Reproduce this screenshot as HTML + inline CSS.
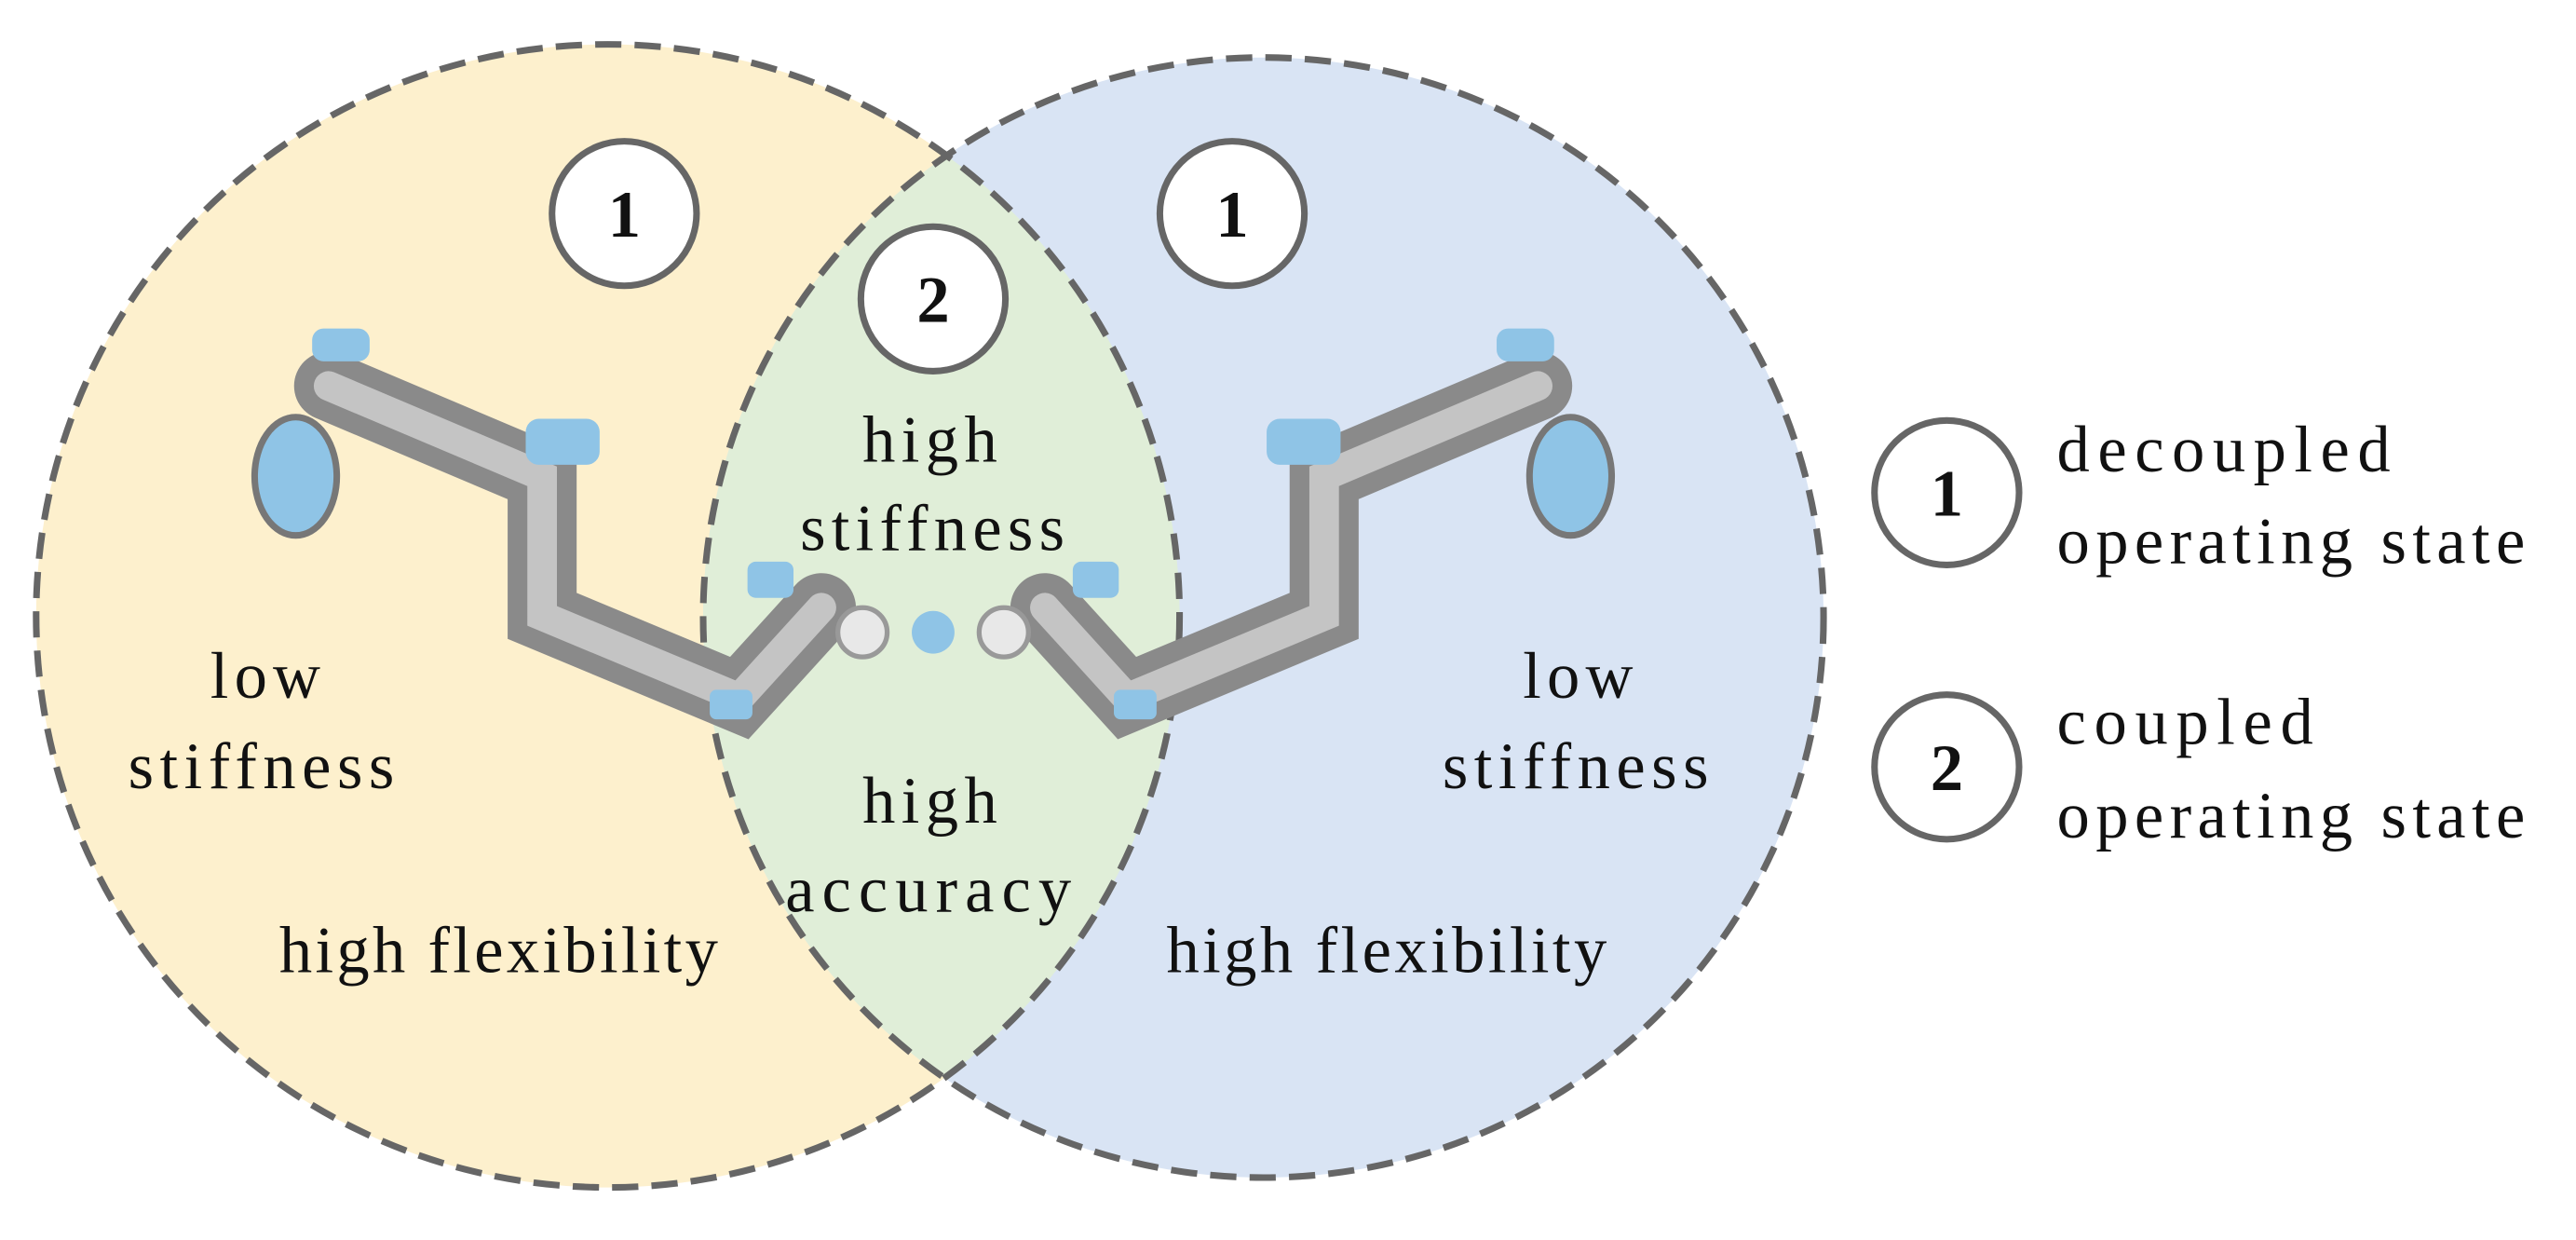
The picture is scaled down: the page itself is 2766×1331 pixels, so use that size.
<!DOCTYPE html>
<html><head><style>html,body{margin:0;padding:0;background:#fff}svg{display:block}</style></head>
<body>
<svg width="2766" height="1331" viewBox="0 0 1568 755" preserveAspectRatio="none" xmlns="http://www.w3.org/2000/svg">
<defs>
<clipPath id="cl"><circle cx="370" cy="375" r="348"/></clipPath>
</defs>
<circle cx="370" cy="375" r="348" fill="#fdf0cd"/>
<circle cx="769" cy="376" r="341" fill="#d9e4f4"/>
<circle cx="769" cy="376" r="341" fill="#e0eed8" clip-path="url(#cl)"/>
<g fill="none" stroke="#666" stroke-width="4" stroke-dasharray="16 8">
<circle cx="370" cy="375" r="348"/>
<circle cx="769" cy="376" r="341"/>
</g>
<g id="rb" stroke-linecap="round" fill="none">
<path d="M200 235 L330 290 L330 375 L450 425 L500 370" stroke="#8a8a8a" stroke-width="42"/>
<path d="M200 235 L330 290 L330 375 L450 425 L500 370" stroke="#c4c4c4" stroke-width="18"/>
<ellipse cx="180" cy="290" rx="25" ry="36" fill="#8fc4e6" stroke="#777" stroke-width="4"/>
<rect x="190" y="200" width="35" height="20" rx="7" fill="#8fc4e6"/>
<rect x="320" y="255" width="45" height="28" rx="8" fill="#8fc4e6"/>
<rect x="455" y="342" width="28" height="22" rx="5" fill="#8fc4e6"/>
<rect x="432" y="420" width="26" height="18" rx="4" fill="#8fc4e6"/>
<circle cx="525" cy="385" r="15" fill="#e8e8e8" stroke="#999" stroke-width="3"/>
</g>
<use href="#rb" transform="translate(1136 0) scale(-1 1)"/>
<circle cx="568" cy="385" r="13" fill="#8fc4e6"/>
<g fill="#fff" stroke="#666" stroke-width="4">
<circle cx="380" cy="130" r="44"/><circle cx="750" cy="130" r="44"/><circle cx="568" cy="182" r="44"/>
<circle cx="1185" cy="300" r="44"/><circle cx="1185" cy="467" r="44"/>
</g>
<g font-family="Liberation Serif, serif" font-size="40" fill="#111" text-anchor="middle" font-weight="bold">
<text x="380" y="144">1</text><text x="750" y="144">1</text><text x="568" y="196">2</text>
<text x="1185" y="314">1</text><text x="1185" y="481">2</text>
</g>
<g font-family="Liberation Serif, serif" font-size="40" fill="#111" lengthAdjust="spacing">
<text x="525" y="281" textLength="82">high</text><text x="487" y="335" textLength="161">stiffness</text>
<text x="525" y="501" textLength="82">high</text><text x="478" y="555" textLength="174">accuracy</text>
<text x="128" y="425" textLength="67">low</text><text x="78" y="480" textLength="162">stiffness</text>
<text x="927" y="425" textLength="67">low</text><text x="878" y="480" textLength="162">stiffness</text>
<text x="170" y="592" textLength="267">high flexibility</text><text x="710" y="592" textLength="268">high flexibility</text>
<text x="1252" y="287" textLength="203">decoupled</text><text x="1252" y="343" textLength="285">operating state</text>
<text x="1252" y="453" textLength="156">coupled</text><text x="1252" y="510" textLength="285">operating state</text>
</g>
</svg>
</body></html>
